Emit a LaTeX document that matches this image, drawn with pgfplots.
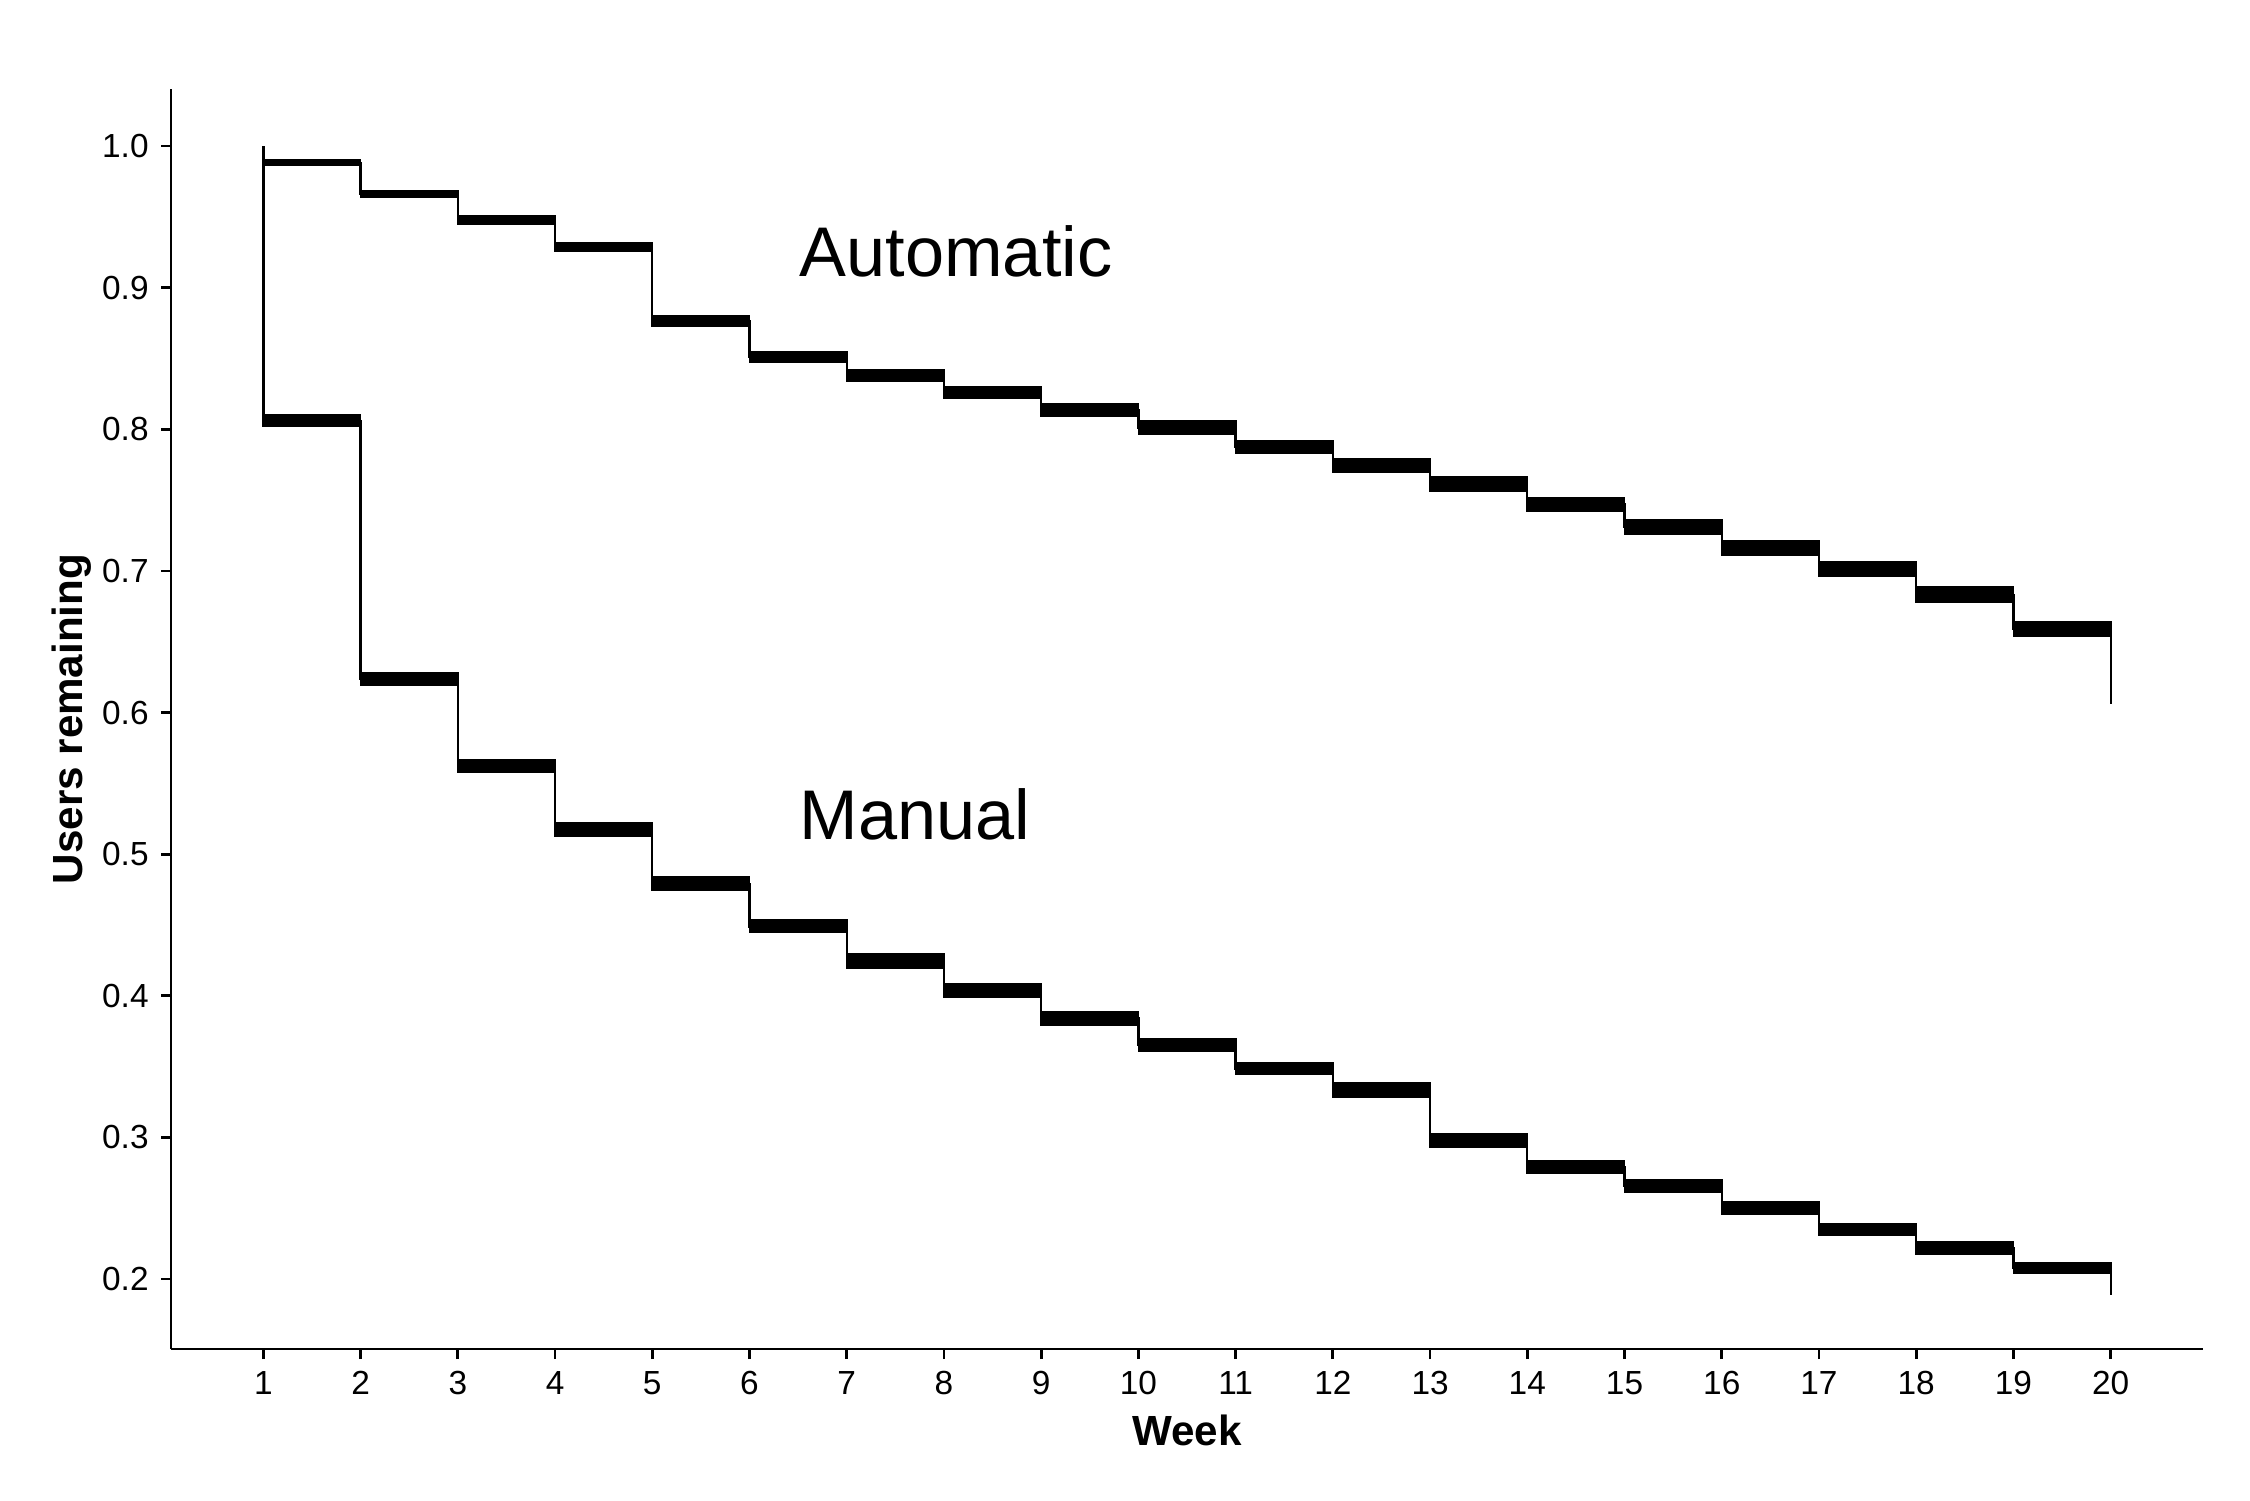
\documentclass[border=0pt]{standalone}
\usepackage{fontspec}
\setmainfont{Liberation Sans}
\usepackage{pgfplots}
\usepackage{pgfplotstable}
\pgfplotsset{compat=1.18}
\usepgfplotslibrary{fillbetween}

% Automatic: confidence band (upper, lower)
\pgfplotstableread{
x up lo
1 0.9900 0.9866
2 0.9684 0.9638
3 0.9506 0.9450
4 0.9313 0.9258
5 0.8800 0.8731
6 0.8547 0.8472
7 0.8420 0.8340
8 0.8300 0.8220
9 0.8183 0.8093
10 0.8056 0.7966
11 0.7920 0.7834
12 0.7790 0.7698
13 0.7662 0.7561
14 0.7519 0.7424
15 0.7360 0.7260
16 0.7215 0.7114
17 0.7062 0.6961
18 0.6886 0.6780
19 0.6643 0.6542
20 0.6643 0.6542
}\autoband
% Automatic: estimate
\pgfplotstableread{
x s
1 1.000
1 0.9880
2 0.9660
3 0.9480
4 0.9286
5 0.8766
6 0.8510
7 0.8380
8 0.8260
9 0.8138
10 0.8010
11 0.7877
12 0.7744
13 0.7610
14 0.7470
15 0.7310
16 0.7165
17 0.7010
18 0.6830
19 0.6590
20 0.6060
}\autoest
% Manual: confidence band
\pgfplotstableread{
x up lo
1 0.8100 0.8023
2 0.6282 0.6193
3 0.5669 0.5578
4 0.5220 0.5127
5 0.4837 0.4746
6 0.4539 0.4447
7 0.4294 0.4193
8 0.4082 0.3988
9 0.3887 0.3792
10 0.3699 0.3607
11 0.3529 0.3445
12 0.3383 0.3286
13 0.3027 0.2933
14 0.2834 0.2749
15 0.2703 0.2611
16 0.2545 0.2458
17 0.2392 0.2310
18 0.2260 0.2177
19 0.2114 0.2039
20 0.2114 0.2039
}\manband
% Manual: estimate
\pgfplotstableread{
x s
1 1.000
1 0.8060
2 0.6238
3 0.5623
4 0.5173
5 0.4790
6 0.4490
7 0.4243
8 0.4035
9 0.3840
10 0.3653
11 0.3487
12 0.3335
13 0.2980
14 0.2790
15 0.2657
16 0.2500
17 0.2350
18 0.2220
19 0.2077
20 0.1890
}\manest

\begin{document}
\begin{tikzpicture}
\begin{axis}[
  scale only axis,
  width=20.32cm, height=12.6cm,
  xmin=0.05, xmax=20.95, ymin=0.1506, ymax=1.0403,
  axis x line*=bottom, axis y line*=left,
  axis line style={line width=0.8pt, -},
  xtick={1,...,20},
  ytick={0.2,0.3,0.4,0.5,0.6,0.7,0.8,0.9,1.0},
  yticklabel style={/pgf/number format/.cd, fixed, fixed zerofill, precision=1},
  /pgf/number format/assume math mode=true,
  tick style={black, line width=0.8pt},
  major tick length=0.1cm,
  tick align=outside,
  ticklabel style={font=\fontsize{9.5}{11}\selectfont, text=black},
  xlabel={\textbf{Week}},
  ylabel={\textbf{Users remaining}},
  xlabel style={font=\fontsize{12}{14}\selectfont, at={([yshift=-0.53cm]axis description cs:0.5,0)}, anchor=north},
  ylabel style={font=\fontsize{12}{14}\selectfont, at={([xshift=-0.99cm]axis description cs:0,0.5)}, anchor=center},
]
  \addplot[name path=aup, draw=none, const plot, forget plot] table[x=x, y=up] {\autoband};
  \addplot[name path=alo, draw=none, const plot, forget plot] table[x=x, y=lo] {\autoband};
  \addplot[fill=black, draw=black, line width=0.5pt, forget plot] fill between[of=aup and alo];
  \addplot[name path=mup, draw=none, const plot, forget plot] table[x=x, y=up] {\manband};
  \addplot[name path=mlo, draw=none, const plot, forget plot] table[x=x, y=lo] {\manband};
  \addplot[fill=black, draw=black, line width=0.5pt, forget plot] fill between[of=mup and mlo];
  \addplot[black, line width=0.65pt, const plot, no marks] table[x=x, y=s] {\autoest};
  \addplot[black, line width=0.65pt, const plot, no marks] table[x=x, y=s] {\manest};
  \node[anchor=base west, font=\fontsize{20}{24}\selectfont, inner sep=0pt] at (axis cs:6.51,0.908) {Automatic};
  \node[anchor=base west, font=\fontsize{20}{24}\selectfont, inner sep=0pt] at (axis cs:6.51,0.5102) {Manual};
\end{axis}
\path ([shift={(-1.71cm,-1.51cm)}]current axis.south west) rectangle ([shift={(0.47cm,0.89cm)}]current axis.north east);
\end{tikzpicture}
\end{document}
